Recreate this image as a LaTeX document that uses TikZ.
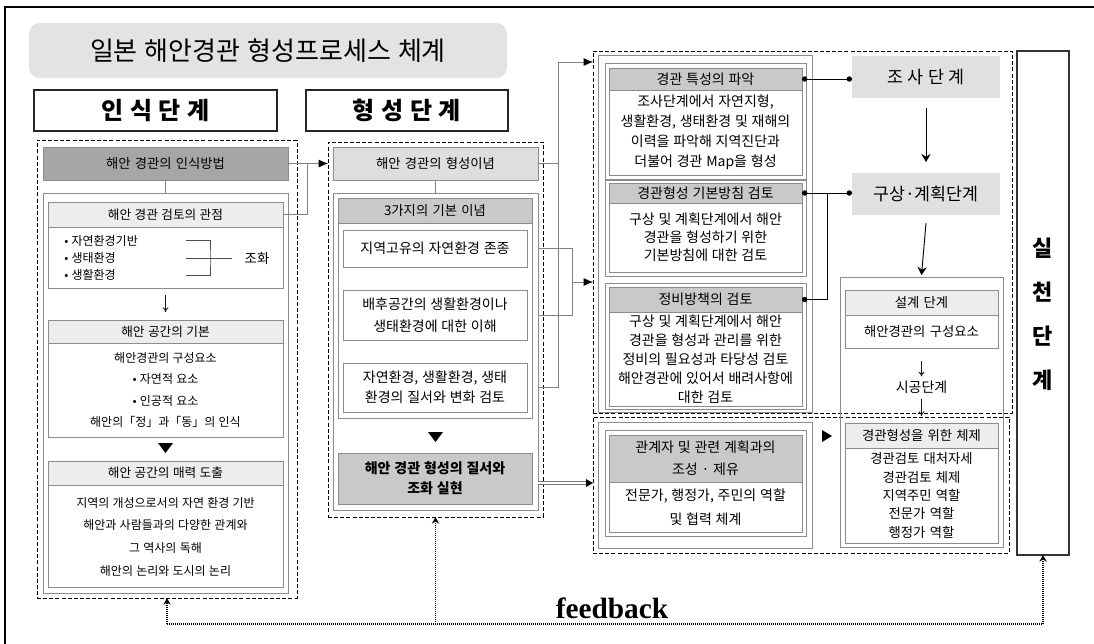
\documentclass[tikz,border=0pt]{standalone}
\usepackage{fontspec}
\setmainfont{Liberation Serif}
\newfontfamily\kr{Noto Sans CJK KR}[WordSpace=3]
\newfontfamily\krt{Noto Sans CJK KR}[WordSpace=1.2]
\newcommand\kf[2]{\kr\fontsize{#1}{#2}\selectfont}
\newcommand\ktf[2]{\krt\fontsize{#1}{#2}\selectfont}
\usetikzlibrary{arrows.meta,fit,calc}
\begin{document}
\begin{tikzpicture}[x=0.75pt,y=-0.75pt,
  fb/.style={inner sep=0pt,outer sep=0pt},
  gbox/.style={fb,draw=black!45,line width=0.7pt},
  dkbox/.style={gbox,fill=black!35},
  mdbox/.style={gbox,fill=black!21},
  ltbox/.style={gbox,fill=black!7},
  ltbox2/.style={gbox,fill=black!13},
  dbox/.style={fb,draw=black,line width=0.75pt,dash pattern=on 3pt off 1.6pt},
  tx/.style={inner sep=0pt,align=center},
  conn/.style={draw=black!50,line width=0.6pt},
  tri/.style={-{Latex[length=7pt,width=6pt,color=black]}},
  thinarr/.style={black!90,line width=0.7pt,-{To[length=3.5pt,width=4.5pt]}},
  sarr/.style={black,line width=0.7pt,-{Stealth[length=6pt,width=7pt]}},
  dotc/.style={black,line width=0.7pt},
  fbk/.style={black,line width=1.4pt,dash pattern=on 0.9pt off 0.6pt},
  fbt/.style={-{Stealth[length=5pt,width=5.5pt]}}
]
\useasboundingbox (0,0) rectangle (1094,643);
\clip (0,0) rectangle (1094,643);
\draw[line width=0.8pt] (5,7) rectangle (1120,680);

% title
\node[fb,fill=black!11,rounded corners=8pt,fit={(29,23)(507,78)}] (title) {};
\node[tx,font=\ktf{19.5}{20}] at (title) {일본 해안경관 형성프로세스 체계};

% stage headers
\node[fb,draw=black!85,line width=0.8pt,fit={(34,90)(277,131)}] (s1) {};
\node[tx,font=\ktf{18}{18}\bfseries] at (s1) {인 식 단 계};
\node[fb,draw=black!85,line width=0.8pt,fit={(306,90)(508,131)}] (s2) {};
\node[tx,font=\ktf{18}{18}\bfseries] at (s2) {형 성 단 계};

% ===== left column
\node[dbox,fit={(37,140)(297,598)}] (L) {};
\node[dkbox,fit={(43,147)(288,180)}] (L0) {};
\node[tx,font=\kf{10}{12}] at (L0) {해안 경관의 인식방법};
\node[gbox,fit={(43,193)(288,593)}] (Lc) {};
\draw[conn] (L0.south) -- (Lc.north);

\node[ltbox,fit={(48,202)(283,227)}] (L1h) {};
\node[tx,font=\kf{9.5}{12}] at (L1h) {해안 경관 검토의 관점};
\node[gbox,fit={(48,227)(283,288)}] (L1b) {};
\node[tx,anchor=west,align=left,font=\kf{9}{13.1}] (L1t) at (64,258) {• 자연환경기반\\• 생태환경\\• 생활환경};
\coordinate (k1) at (186,240);
\coordinate (k2) at (186,275);
\coordinate (k3) at (186,258);
\coordinate (kj) at (210,258);
\draw[black!70,line width=0.6pt] (k1) -| (kj) |- (k2);
\node[tx,font=\kf{10}{12}] (L1z) at (257,258) {조화};
\draw[black!70,line width=0.6pt] (k3) -- ($(L1z.west)+(-12,0)$);

\node[ltbox,fit={(48,320)(283,343)}] (L2h) {};
\node[tx,font=\kf{9.5}{12}] at (L2h) {해안 공간의 기본};
\node[gbox,fit={(48,343)(283,437)}] (L2b) {};
\node[tx,font=\kf{9}{16}] at (165.5,390) {해안경관의 구성요소\\• 자연적 요소\\• 인공적 요소\\해안의「정」과「동」의 인식};
\draw[thinarr] ($(L1b.south)+(0,7)$) -- ($(L2h.north)+(0,-8)$);
\fill (158,443) -- (173,443) -- (165.5,453) -- cycle;

\node[ltbox,fit={(48,461)(283,485)}] (L3h) {};
\node[tx,font=\kf{9.5}{12}] at (L3h) {해안 공간의 매력 도출};
\node[gbox,fit={(48,485)(283,587)}] (L3b) {};
\node[tx,font=\kf{9}{17}] at (165.5,536.5) {지역의 개성으로서의 자연 환경 기반\\해안과 사람들과의 다양한 관계와\\그 역사의 독해\\해안의 논리와 도시의 논리};

% ===== middle column
\node[dbox,fit={(328,142)(543,517)}] (M) {};
\node[ltbox2,fit={(333,147)(538,180)}] (M0) {};
\node[tx,font=\kf{10}{12}] at (M0) {해안 경관의 형성이념};
\node[gbox,fit={(333,193)(538,510)}] (Mc) {};
\draw[conn] (M0.south) -- (Mc.north);
\node[mdbox,fit={(338,198)(532,223)}] (Mh) {};
\node[tx,font=\kf{10}{12}] at (Mh) {3가지의 기본 이념};
\node[gbox,fit={(338,223)(532,418)}] (Mb) {};
\node[gbox,fit={(343,230)(527,267)}] (m1) {};
\node[tx,font=\kf{10.5}{16}] at (m1) {지역고유의 자연환경 존종};
\node[gbox,fit={(343,290)(527,340)}] (m2) {};
\node[tx,font=\kf{10.5}{16.5}] at (m2) {배후공간의 생활환경이나\\생태환경에 대한 이해};
\node[gbox,fit={(343,363)(527,412)}] (m3) {};
\node[tx,font=\kf{10.5}{15}] at (m3) {자연환경, 생활환경, 생태\\환경의 질서와 변화 검토};
\fill (428,432) -- (443,432) -- (435.5,442) -- cycle;
\node[mdbox,fit={(338,453)(532,504)}] (m4) {};
\node[tx,font=\kf{10.5}{15}\bfseries] at (m4) {해안 경관 형성의 질서와\\조화 실현};

% ===== right column
\node[dbox,fit={(593,51)(1012,413)}] (R1) {};
\node[dbox,fit={(593,417)(1009,553)}] (R2) {};
\node[gbox,fit={(598,55)(812,412)}] (Rc) {};
\node[gbox,fit={(605,63)(806,179)}] (rf1) {};
\node[gbox,fit={(605,180)(806,276)}] (rf2) {};
\node[gbox,fit={(605,283)(806,409)}] (rf3) {};

\node[mdbox,fit={(609,68)(802,90)}] (r1h) {};
\node[tx,font=\kf{10.5}{12}] at (r1h) {경관 특성의 파악};
\node[gbox,fit={(609,90)(802,175)}] (r1b) {};
\node[tx,font=\kf{10.5}{15}] at (r1b) {조사단계에서 자연지형,\\생활환경, 생태환경 및 재해의\\이력을 파악해 지역진단과\\더불어 경관 Map을 형성};

\node[mdbox,fit={(609,183)(802,203)}] (r2h) {};
\node[tx,font=\kf{10.5}{12}] at (r2h) {경관형성 기본방침 검토};
\node[gbox,fit={(609,203)(802,272)}] (r2b) {};
\node[tx,font=\kf{10.5}{13.5}] at (r2b) {구상 및 계획단계에서 해안\\경관을 형성하기 위한\\기본방침에 대한 검토};

\node[mdbox,fit={(609,287)(802,312)}] (r3h) {};
\node[tx,font=\kf{10.5}{12}] at (r3h) {정비방책의 검토};
\node[gbox,fit={(609,312)(802,406)}] (r3b) {};
\node[tx,font=\kf{10.5}{14.25}] at (r3b) {구상 및 계획단계에서 해안\\경관을 형성과 관리를 위한\\정비의 필요성과 타당성 검토\\해안경관에 있어서 배려사항에\\대한 검토};

\node[gbox,fit={(598,422)(812,548)}] (Rc2) {};
\node[gbox,fit={(605,430)(806,536)}] (rf4) {};
\node[mdbox,fit={(609,435)(802,482)}] (r4h) {};
\node[tx,font=\kf{10.5}{16.5}] at (r4h) {관계자 및 관련 계획과의\\조성 · 제유};
\node[gbox,fit={(609,482)(802,532)}] (r4b) {};
\node[tx,font=\kf{10.5}{18}] at (r4b) {전문가, 행정가, 주민의 역할\\및 협력 체계};

% stage boxes
\node[fb,fill=black!12,fit={(852,56)(1000,98)}] (survey) {};
\node[tx,font=\ktf{13}{14}] at (survey) {조 사 단 계};
\node[fb,fill=black!12,fit={(852,173)(1000,215)}] (plan) {};
\node[tx,font=\ktf{13}{14}] at (plan) {구상·계획단계};

\node[gbox,fit={(840,277)(1003,547)}] (Dc) {};
\node[ltbox,fit={(845,290)(998,315)}] (d1h) {};
\node[tx,font=\kf{10}{12}] at (d1h) {설계 단계};
\node[gbox,fit={(845,315)(998,348)}] (d1b) {};
\node[tx,font=\kf{10}{12}] at (d1b) {해안경관의 구성요소};
\node[tx,font=\kf{10.5}{12}] (build) at (921.5,387) {시공단계};
\node[ltbox,fit={(845,423)(998,448)}] (d2h) {};
\node[tx,font=\kf{10}{12}] at (d2h) {경관형성을 위한 체제};
\node[gbox,fit={(845,448)(998,543)}] (d2b) {};
\node[tx,font=\kf{10}{13.7}] at (d2b) {경관검토 대처자세\\경관검토 체제\\지역주민 역할\\전문가 역할\\행정가 역할};
\draw[thinarr] ($(d1b.south)+(0,13)$) -- ($(build.north)+(0,-4)$);
\draw[thinarr] ($(build.south)+(0,5)$) -- ($(d2h.north)+(0,-7)$);
\fill (822,430) -- (832,436) -- (822,442) -- cycle;

\draw[sarr] ($(survey.south)+(0,10)$) -- ($(plan.north)+(0,-11)$);
\draw[sarr] ($(plan.south)+(0,8)$) -- ($(Dc.north)+(0,-2)$);

% practice stage
\node[fb,draw=black!80,line width=0.8pt,fit={(1017,51)(1069,555)}] (P) {};
\node[tx,font=\ktf{16.5}{33}\bfseries] at (1043,314) {실\\천\\단\\계};

% ===== connectors
\coordinate (jL) at (307,163.5);
\draw[conn,tri] (L0.east) -- (L0.east -| M.west);
\draw[conn] (L1h.east) -| (jL);

\coordinate (v1) at (558,62);
\draw[conn] (M0.east) -- (M0.east -| v1);
\draw[conn] (m3.east -| Mc.east) -| (v1);
\draw[conn,tri] (v1) -- (v1 -| R1.west);

\coordinate (v3) at (572,282);
\draw[conn] (m1.east -| Mc.east) -| (v3);
\draw[conn] (m2.east -| Mc.east) -| (v3);
\draw[conn,tri] (v3) -- (v3 -| R1.west);

\coordinate (d1) at (538,483);
\draw[black!55,line width=0.5pt,double,double distance=1.4pt,shorten >=5pt] (d1) -- (d1 -| R2.west);
\fill (586,479) -- (593,483) -- (586,487) -- cycle;

\coordinate (j3) at (827,193);
\draw[dotc,{Circle[length=4pt]}-{Circle[length=4pt]}] (r1h.east) -- (r1h.east -| survey.west);
\draw[dotc,{Circle[length=4pt]}-{Circle[length=4pt]}] (r2h.east) -- (r2h.east -| plan.west);
\draw[dotc,{Circle[length=4pt]}-] (r3h.east) -| (j3);

% feedback
\coordinate (fl) at (167,624);
\draw[fbk] (L.south |- fl) -- (P.south |- fl);
\draw[fbk,fbt] (L.south |- fl) -- (L.south);
\draw[fbk,fbt] (M.south |- fl) -- (M.south);
\draw[fbk,fbt] (P.south |- fl) -- (P.south);
\node[anchor=base,inner sep=0pt,font=\fontsize{22}{22}\selectfont\bfseries] (fbl) at (612,618) {feedback};
\end{tikzpicture}
\end{document}
